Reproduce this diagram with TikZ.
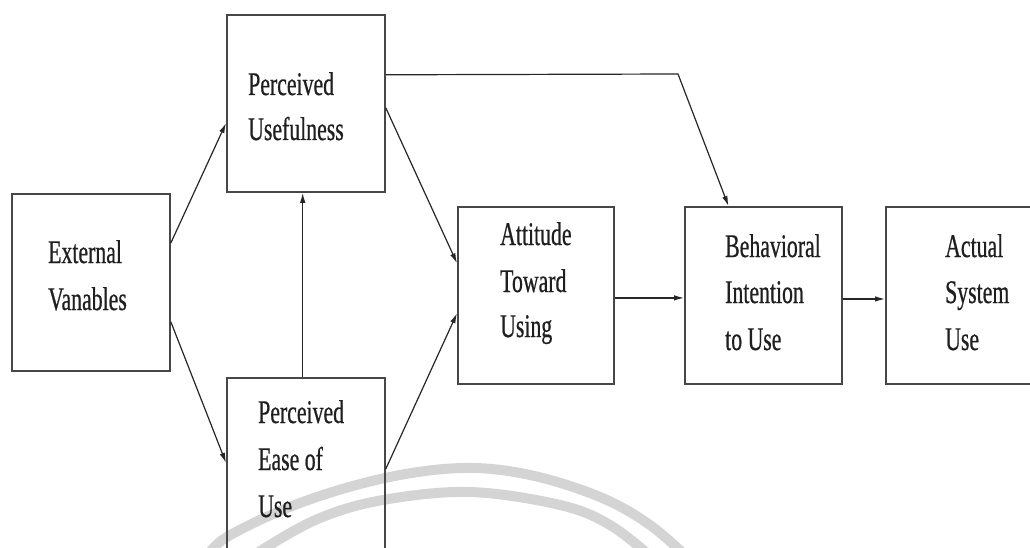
\documentclass[tikz,border=0pt]{standalone}
\usepackage{fontspec}
\newfontfamily\tamfont[FakeStretch=0.66,FakeBold=0.6]{Liberation Serif}
\usetikzlibrary{arrows.meta,calc}

\begin{document}
\begin{tikzpicture}[x=1pt,y=-1pt,
  box/.style={draw=black!72, line width=1.8pt, rectangle,
    minimum width=158pt, minimum height=177pt, anchor=north west, inner sep=0pt},
  lbl/.style={anchor=base west, inner sep=0pt,
    font=\tamfont\fontsize{33}{40}\selectfont, text=black!88},
  link/.style={draw=black!85, line width=1.2pt, -{Latex[length=10pt,width=5.5pt]}},
  arcband/.style={draw=black!17, line width=10pt}]

\useasboundingbox (0,0) rectangle (1030,548);
\clip (0,0) rectangle (1030,548);

% light seal arcs in the background
\draw[arcband] plot[smooth, tension=0.6] coordinates
  {(205,560) (227,537) (300,503) (385,478) (463,468) (530,475) (600,497) (650,525) (690,560)};
\draw[arcband] plot[smooth, tension=0.6] coordinates
  {(250,560) (265,548) (320,518) (383,500) (470,492) (560,505) (610,525) (655,560)};

% boxes
\node[box] (ev) at (11,193) {};
\node[box] (pu) at (226,14) {};
\node[box] (peu) at (226,377) {};
\node[box, minimum width=156pt] (atu) at (457,206) {};
\node[box, minimum width=157pt] (bi) at (684,206) {};
\node[box] (asu) at (885,206) {};

% labels
\node[lbl] (ev1) at (48,263) {External};
\node[lbl] (ev2) at (48,310) {Vanables};
\node[lbl] (pu1) at (248,95) {Perceived};
\node[lbl] (pu2) at (248,140) {Usefulness};
\node[lbl] (peu1) at (258,423) {Perceived};
\node[lbl] (peu2) at (258,470) {Ease of};
\node[lbl] (peu3) at (258,517) {Use};
\node[lbl] (atu1) at (500,245) {Attitude};
\node[lbl] (atu2) at (500,292) {Toward};
\node[lbl] (atu3) at (500,337) {Using};
\node[lbl] (bi1) at (725,257) {Behavioral};
\node[lbl] (bi2) at (725,303) {Intention};
\node[lbl] (bi3) at (725,350) {to Use};
\node[lbl] (asu1) at (945,257) {Actual};
\node[lbl] (asu2) at (945,303) {System};
\node[lbl] (asu3) at (945,350) {Use};

% connectors
\draw[link] ($(ev.north east)!0.28!(ev.south east)$) -- ($(pu.north west)!0.61!(pu.south west)$);
\draw[link] ($(ev.north east)!0.72!(ev.south east)$) -- ($(peu.north west)!0.48!(peu.south west)$);
\draw[link] ($(peu.north west)!0.48!(peu.north east)$) -- ($(pu.south west)!0.48!(pu.south east)$);
\draw[link] ($(pu.north east)!0.525!(pu.south east)$) -- ($(atu.north west)!0.32!(atu.south west)$);
\draw[link] ($(peu.north east)!0.514!(peu.south east)$) -- ($(atu.north west)!0.60!(atu.south west)$);
\coordinate (knee) at (678,74);
\draw[link] ($(pu.north east)!0.34!(pu.south east)$) -- (knee) -- ($(bi.north west)!0.28!(bi.north east)$);
\draw[link] ($(atu.north east)!0.514!(atu.south east)$) -- ($(bi.north west)!0.514!(bi.south west)$);
\draw[link] ($(bi.north east)!0.52!(bi.south east)$) -- ($(asu.north west)!0.52!(asu.south west)$);

\end{tikzpicture}
\end{document}
